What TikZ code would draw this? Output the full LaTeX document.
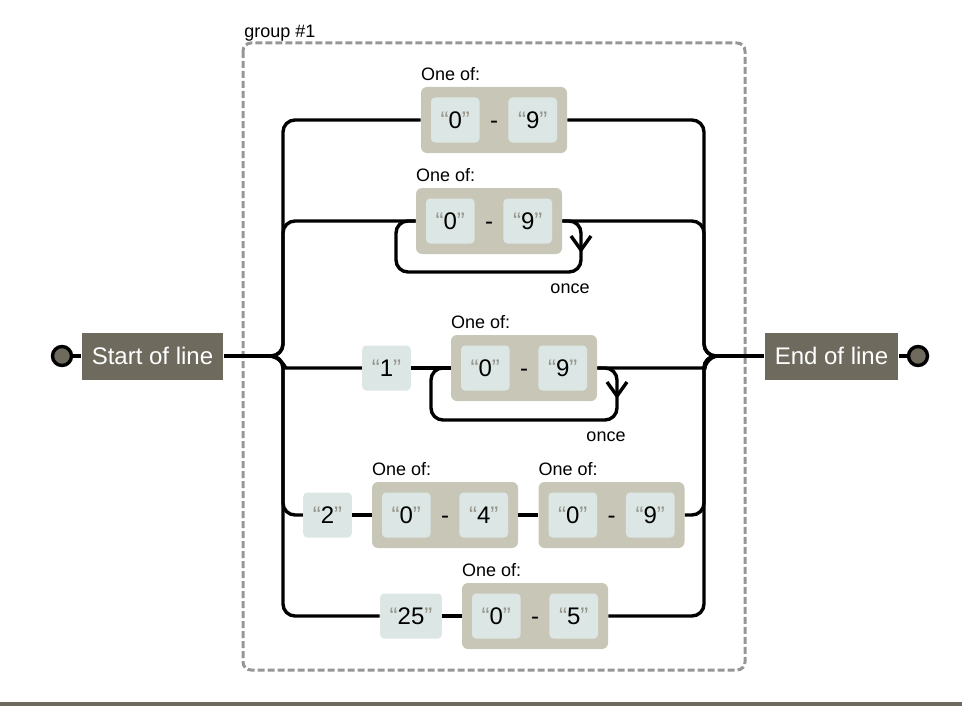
\documentclass[tikz,border=0pt]{standalone}
\usepackage{fontspec}
\setmainfont{Liberation Sans}
\usetikzlibrary{positioning}
\definecolor{termfill}{RGB}{110,106,94}
\definecolor{rangefill}{RGB}{200,199,183}
\definecolor{litfill}{RGB}{220,231,229}
\definecolor{quotegray}{RGB}{150,150,140}
\definecolor{grpgray}{RGB}{150,150,150}
\newcommand{\qlit}[1]{{\color{quotegray}“}#1{\color{quotegray}”}}
\tikzset{
  rail/.style={line width=1.7pt, rounded corners=6pt},
  termbox/.style={fill=termfill, text=white, font=\fontsize{12}{14}\selectfont,
    minimum height=23.5pt, inner xsep=5pt},
  endpt/.style={circle, draw, line width=1.7pt, fill=termfill, minimum size=9.5pt, inner sep=0pt},
  rangebox/.style={fill=rangefill, rounded corners=3pt, minimum width=73pt, minimum height=33pt},
  litbox/.style={fill=litfill, rounded corners=2pt, minimum width=24pt, minimum height=22.5pt,
    inner xsep=4.8pt, font=\fontsize{12}{14}\selectfont},
  hyph/.style={font=\fontsize{12}{14}\selectfont},
  note/.style={font=\fontsize{9}{11}\selectfont, inner sep=0pt},
  grpframe/.style={draw=grpgray, line width=1.5pt, dash pattern=on 3.5pt off 1.5pt, rounded corners=4pt}
}
\begin{document}
\begin{tikzpicture}[x=0.5pt, y=-0.5pt]
\useasboundingbox (0,0) rectangle (962,706);
\draw[grpframe] (243,43) rectangle (745,670);
\node[note, anchor=base west] at (244,38) {group \#1};
\fill[termfill] (0,702) rectangle (962,706);

\node[endpt] (sc) at (62,356) {};
\node[termbox] (sb) at (152.5,356) {Start of line};
\node[termbox] (eb) at (831.5,356) {End of line};
\node[endpt] (ec) at (918,356) {};
\coordinate (jl) at (268,356);
\coordinate (jr) at (719,356);

\foreach \n/\x/\y/\lo/\hi in {r1/494/120/0/9, r2/489/221/0/9, r3/524/368/0/9,
    r4a/445/515/0/4, r4b/611.5/515/0/9, r5/535/616/0/5} {
  \node[rangebox] (\n) at (\x,\y) {};
  \node[litbox, right=5pt of \n.west] (\n-lo) {\qlit{\lo}};
  \node[litbox, left=5pt of \n.east] (\n-hi) {\qlit{\hi}};
  \node[hyph, anchor=base] at (\n |- \n-lo.base) {-};
  \node[note, anchor=base west] at ([yshift=3pt]\n.north west) {One of:};
}

\node[litbox] (one) at (386.5,368) {\qlit{1}};
\node[litbox] (two) at (327.5,515) {\qlit{2}};
\node[litbox] (tf) at (411,616) {\qlit{25}};
\node[note] at (570,289) {once};
\node[note] at (606,437) {once};

\draw[rail] (sc) -- (sb);
\draw[rail] (sb) -- (jl);
\draw[rail] (jr) -- (eb);
\draw[rail] (eb) -- (ec);

\draw[rail] (jl) -- (283,356) -- (283,120) -- (r1.west);
\draw[rail] (jl) -- (283,356) -- (283,221) -- (r2.west);
\draw[rail] (jl) to[out=0, in=180] (298,368) -- (one.west);
\draw[rail] (jl) -- (283,356) -- (283,515) -- (two.west);
\draw[rail] (jl) -- (283,356) -- (283,616) -- (tf.west);

\draw[rail] (r1.east) -- (704,120) -- (704,356) -- (jr);
\draw[rail] (r2.east) -- (704,221) -- (704,356) -- (jr);
\draw[rail] (r3.east) -- (693,368) to[out=0, in=180] (jr);
\draw[rail] (r4b.east) -- (704,515) -- (704,356) -- (jr);
\draw[rail] (r5.east) -- (704,616) -- (704,356) -- (jr);

\draw[rail] (one) -- (r3);
\draw[rail] (two) -- (r4a);
\draw[rail] (r4a) -- (r4b);
\draw[rail] (tf) -- (r5);

\draw[rail] (r2.east) -- (581,221) -- (581,272) -- (396,272) -- (396,221) -- (r2.west);
\draw[rail, sharp corners] (571,236) -- (581,250) -- (591,236);
\draw[rail] (r3.east) -- (617,368) -- (617,420) -- (431,420) -- (431,368) -- (r3.west);
\draw[rail, sharp corners] (607,382) -- (617,396) -- (627,382);
\end{tikzpicture}
\end{document}
